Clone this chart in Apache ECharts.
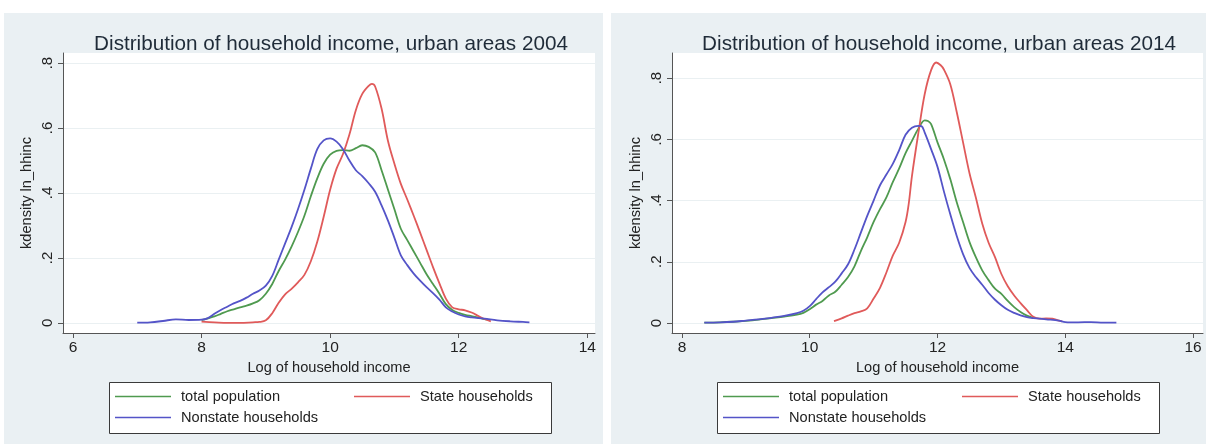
<!DOCTYPE html>
<html>
<head>
<meta charset="utf-8">
<script src="https://cdn.jsdelivr.net/npm/echarts@6/dist/echarts.min.js"></script>
<style>
  html, body { margin: 0; padding: 0; background: #ffffff; }
  #chart { width: 1206px; height: 444px; }
</style>
</head>
<body>
<div id="chart"></div>
<script>
// Kernel density estimates of log household income, urban areas.
const titles = [
  'Distribution of household income, urban areas 2004',
  'Distribution of household income, urban areas 2014'
];
const xAxisTitle = 'Log of household income';
const yAxisTitle = 'kdensity ln_hhinc';
const seriesNames = ['total population', 'State households', 'Nonstate households'];

const xTicks2004 = [6, 8, 10, 12, 14];
const xTicks2014 = [8, 10, 12, 14, 16];
const yTicks = [0, 0.2, 0.4, 0.6, 0.8];

// 2004: [log income, density]
const total2004 = [
  [8.0, 0.009], [8.1, 0.014], [8.2, 0.020], [8.3, 0.028], [8.4, 0.036], [8.5, 0.042],
  [8.6, 0.048], [8.7, 0.053], [8.8, 0.060], [8.9, 0.070], [9.0, 0.090], [9.1, 0.120],
  [9.2, 0.160], [9.3, 0.195], [9.4, 0.235], [9.5, 0.280], [9.6, 0.330], [9.7, 0.390],
  [9.8, 0.445], [9.9, 0.490], [10.0, 0.518], [10.1, 0.530], [10.2, 0.532], [10.3, 0.530],
  [10.4, 0.538], [10.5, 0.547], [10.6, 0.542], [10.7, 0.525], [10.8, 0.470], [10.9, 0.410],
  [11.0, 0.350], [11.1, 0.290], [11.2, 0.255], [11.3, 0.220], [11.4, 0.185], [11.5, 0.150],
  [11.6, 0.120], [11.7, 0.090], [11.8, 0.058], [11.9, 0.040], [12.0, 0.031], [12.1, 0.025],
  [12.2, 0.021], [12.3, 0.017], [12.4, 0.012], [12.45, 0.010]
];
const state2004 = [
  [8.0, 0.004], [8.2, 0.002], [8.4, 0.000], [8.6, 0.000], [8.8, 0.002], [8.9, 0.003],
  [9.0, 0.008], [9.1, 0.030], [9.2, 0.062], [9.3, 0.088], [9.4, 0.105], [9.5, 0.125],
  [9.6, 0.148], [9.7, 0.190], [9.8, 0.250], [9.9, 0.327], [10.0, 0.410], [10.1, 0.475],
  [10.2, 0.520], [10.3, 0.580], [10.4, 0.655], [10.5, 0.705], [10.6, 0.730], [10.65, 0.736],
  [10.7, 0.728], [10.8, 0.660], [10.9, 0.560], [11.0, 0.490], [11.1, 0.428], [11.2, 0.380],
  [11.3, 0.330], [11.4, 0.278], [11.5, 0.225], [11.6, 0.172], [11.7, 0.122], [11.8, 0.075],
  [11.9, 0.048], [12.0, 0.042], [12.1, 0.039], [12.2, 0.032], [12.3, 0.022], [12.4, 0.012],
  [12.5, 0.005]
];
const nonstate2004 = [
  [7.0, 0.001], [7.2, 0.002], [7.4, 0.006], [7.6, 0.011], [7.8, 0.009], [8.0, 0.010],
  [8.1, 0.015], [8.2, 0.028], [8.3, 0.040], [8.4, 0.050], [8.5, 0.060], [8.6, 0.068],
  [8.7, 0.078], [8.8, 0.090], [8.9, 0.100], [9.0, 0.115], [9.1, 0.145], [9.2, 0.195],
  [9.3, 0.245], [9.4, 0.295], [9.5, 0.350], [9.6, 0.410], [9.7, 0.475], [9.8, 0.535],
  [9.9, 0.562], [10.0, 0.568], [10.1, 0.558], [10.2, 0.535], [10.3, 0.500], [10.4, 0.470],
  [10.5, 0.452], [10.6, 0.430], [10.7, 0.404], [10.8, 0.362], [10.9, 0.315], [11.0, 0.262],
  [11.1, 0.208], [11.2, 0.178], [11.3, 0.152], [11.4, 0.130], [11.5, 0.110], [11.6, 0.092],
  [11.7, 0.072], [11.8, 0.048], [11.9, 0.035], [12.0, 0.026], [12.1, 0.020], [12.2, 0.017],
  [12.4, 0.013], [12.6, 0.008], [12.8, 0.005], [13.0, 0.003], [13.1, 0.002]
];

// 2014
const total2014 = [
  [8.35, 0.001], [8.6, 0.002], [8.8, 0.004], [9.0, 0.007], [9.2, 0.011], [9.4, 0.016],
  [9.6, 0.021], [9.8, 0.027], [9.9, 0.033], [10.0, 0.045], [10.1, 0.060], [10.2, 0.072],
  [10.3, 0.090], [10.4, 0.102], [10.5, 0.125], [10.6, 0.150], [10.7, 0.185], [10.8, 0.235],
  [10.9, 0.280], [11.0, 0.330], [11.1, 0.372], [11.2, 0.410], [11.3, 0.460], [11.4, 0.505],
  [11.5, 0.555], [11.6, 0.595], [11.7, 0.635], [11.8, 0.662], [11.85, 0.660], [11.9, 0.650],
  [12.0, 0.590], [12.1, 0.535], [12.2, 0.470], [12.3, 0.395], [12.4, 0.330], [12.5, 0.265],
  [12.6, 0.215], [12.7, 0.172], [12.8, 0.140], [12.9, 0.112], [13.0, 0.095], [13.1, 0.072],
  [13.2, 0.052], [13.3, 0.036], [13.4, 0.024], [13.5, 0.017]
];
const state2014 = [
  [10.38, 0.006], [10.5, 0.015], [10.6, 0.024], [10.7, 0.032], [10.8, 0.038], [10.9, 0.048],
  [11.0, 0.080], [11.1, 0.115], [11.2, 0.165], [11.3, 0.220], [11.4, 0.262], [11.5, 0.330],
  [11.55, 0.390], [11.6, 0.480], [11.7, 0.620], [11.8, 0.748], [11.9, 0.826], [11.98, 0.851],
  [12.05, 0.842], [12.1, 0.828], [12.2, 0.780], [12.3, 0.690], [12.4, 0.590], [12.5, 0.490],
  [12.6, 0.410], [12.7, 0.325], [12.8, 0.262], [12.9, 0.215], [13.0, 0.160], [13.1, 0.120],
  [13.2, 0.090], [13.3, 0.065], [13.4, 0.042], [13.5, 0.020], [13.6, 0.014], [13.7, 0.015],
  [13.8, 0.014], [13.9, 0.008], [13.95, 0.005]
];
const nonstate2014 = [
  [8.35, 0.001], [8.6, 0.002], [8.8, 0.004], [9.0, 0.008], [9.2, 0.012], [9.4, 0.017],
  [9.6, 0.023], [9.8, 0.032], [9.9, 0.040], [10.0, 0.055], [10.1, 0.078], [10.2, 0.100],
  [10.3, 0.117], [10.4, 0.135], [10.5, 0.162], [10.6, 0.192], [10.7, 0.240], [10.8, 0.295],
  [10.9, 0.350], [11.0, 0.400], [11.1, 0.450], [11.2, 0.485], [11.3, 0.520], [11.4, 0.565],
  [11.5, 0.615], [11.6, 0.638], [11.7, 0.644], [11.75, 0.643], [11.8, 0.622], [11.9, 0.568],
  [12.0, 0.510], [12.1, 0.430], [12.2, 0.355], [12.3, 0.285], [12.4, 0.225], [12.5, 0.180],
  [12.6, 0.150], [12.7, 0.125], [12.8, 0.098], [12.9, 0.076], [13.0, 0.058], [13.1, 0.043],
  [13.2, 0.033], [13.3, 0.025], [13.4, 0.019], [13.5, 0.016], [13.7, 0.012], [13.9, 0.008],
  [14.0, 0.003], [14.2, 0.002], [14.4, 0.003], [14.6, 0.001], [14.8, 0.001]
];

const colors = ['#4f9a4f', '#e05a5a', '#5454c8'];
const panelBg = '#eaf0f3';
const font = '"Liberation Sans", Arial, Helvetica, sans-serif';
const labelColor = '#222222';
const axisColor = '#555555';

const panels = [
  { grid: { left: 63, top: 53, width: 532, height: 280 }, xMin: 5.845, xMax: 14.12, yMin: -0.031, yMax: 0.831,
    xTicks: xTicks2004, data: [total2004, state2004, nonstate2004], title: titles[0], center: 326,
    legendBox: [109, 382, 442, 51], legendLeft: 115 },
  { grid: { left: 672, top: 53, width: 531, height: 280 }, xMin: 7.844, xMax: 16.156, yMin: -0.0327, yMax: 0.882,
    xTicks: xTicks2014, data: [total2014, state2014, nonstate2014], title: titles[1], center: 934,
    legendBox: [717, 382, 442, 51], legendLeft: 723 }
];

function tickText(v) {
  if (v === 0) return '0';
  return String(+v.toFixed(2)).replace(/^0\./, '.');
}

const option = {
  backgroundColor: '#ffffff',
  animation: false,
  textStyle: { fontFamily: font },
  title: panels.map(p => ({
    text: p.title, left: p.center, top: 29, textAlign: 'center',
    textStyle: { fontFamily: font, fontSize: 20.7, fontWeight: 'normal', color: '#1f2b38' }
  })),
  grid: panels.map(p => Object.assign({ show: true, backgroundColor: '#ffffff', borderWidth: 0 }, p.grid)),
  xAxis: panels.map((p, i) => ({
    type: 'value', gridIndex: i, min: p.xMin, max: p.xMax,
    name: xAxisTitle, nameLocation: 'middle', nameGap: 25,
    nameTextStyle: { fontFamily: font, fontSize: 14.6, color: labelColor },
    axisLine: { onZero: false, lineStyle: { color: axisColor, width: 1 } },
    axisTick: { show: true, length: 5, customValues: p.xTicks, lineStyle: { color: axisColor } },
    axisLabel: { customValues: p.xTicks, margin: 7, fontSize: 15.5, color: labelColor, fontFamily: font,
                 formatter: v => String(v) },
    splitLine: { show: false }
  })),
  yAxis: panels.map((p, i) => ({
    type: 'value', gridIndex: i, min: p.yMin, max: p.yMax,
    name: yAxisTitle, nameLocation: 'middle', nameGap: 29, nameRotate: 90,
    nameTextStyle: { fontFamily: font, fontSize: 14.6, color: labelColor },
    axisLine: { show: true, onZero: false, lineStyle: { color: axisColor, width: 1 } },
    axisTick: { show: true, length: 5, customValues: yTicks, lineStyle: { color: axisColor } },
    axisLabel: { customValues: yTicks, margin: 8, rotate: 90, fontSize: 15, color: labelColor, fontFamily: font,
                 formatter: v => tickText(v) },
    splitLine: { show: true, lineStyle: { color: '#eaf0f2', width: 1.2 } }
  })),
  legend: [],
  graphic: { elements: [] },
  series: []
};

// panel backgrounds and legend boxes
option.graphic.elements.push(
  { type: 'rect', shape: { x: 4, y: 13, width: 599, height: 431 }, style: { fill: panelBg }, z: -100, silent: true },
  { type: 'rect', shape: { x: 611, y: 13, width: 595, height: 431 }, style: { fill: panelBg }, z: -100, silent: true }
);

panels.forEach((p, i) => {
  const b = p.legendBox;
  option.graphic.elements.push({
    type: 'rect', shape: { x: b[0] + 0.5, y: b[1] + 0.5, width: b[2], height: b[3] },
    style: { fill: '#ffffff', stroke: '#3a3a3a', lineWidth: 1 }, z: 1, silent: true
  });
  // legend entries: two on the first row, one on the second
  const spots = [[p.legendLeft, 389], [p.legendLeft + 239, 389], [p.legendLeft, 410]];
  seriesNames.forEach((name, k) => {
    option.legend.push({
      data: [name], left: spots[k][0], top: spots[k][1], icon: 'rect',
      itemWidth: 56, itemHeight: 1.6, selectedMode: false, padding: 0,
      textStyle: { fontFamily: font, fontSize: 14.6, color: labelColor, padding: [0, 0, 0, 5] }
    });
  });
  p.data.forEach((d, k) => {
    option.series.push({
      name: seriesNames[k], type: 'line', xAxisIndex: i, yAxisIndex: i,
      data: d, showSymbol: false, smooth: 0.35, clip: true,
      lineStyle: { color: colors[k], width: 1.8 }, itemStyle: { color: colors[k] }
    });
  });
});

const chart = echarts.init(document.getElementById('chart'), null, { renderer: 'canvas' });
chart.setOption(option);
</script>
</body>
</html>
